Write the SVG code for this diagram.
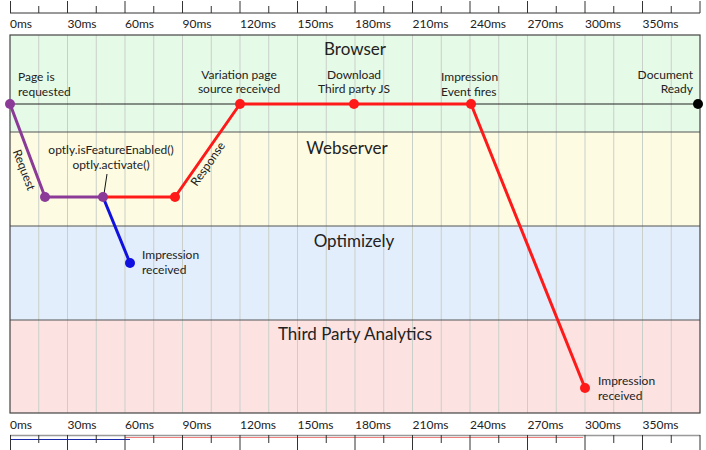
<svg xmlns="http://www.w3.org/2000/svg" width="706" height="450" viewBox="0 0 706 450">
<style>
text{font-family:Lato,"Open Sans","Liberation Sans",sans-serif;fill:#222}
.t{font-size:12px}
.h{font-size:17px;text-anchor:middle}
.ax{font-size:12px}
.grid{stroke:#c9cfc9;stroke-width:1}
.tick{stroke:#333;stroke-width:1}
.div{stroke:#555;stroke-width:1.2}
.pl{fill:none;stroke:#8b3a98;stroke-width:3;stroke-linejoin:round}
.rl{fill:none;stroke:#ff1a1a;stroke-width:3;stroke-linejoin:round}
.bl{fill:none;stroke:#1010e0;stroke-width:3}
.pd{fill:#8b3a98}.rd{fill:#ff1a1a}.bd{fill:#1010e0}
</style>
<rect width="706" height="450" fill="#fff"/>
<g id="top-axis">
<line x1="10" y1="13" x2="700" y2="13" class="tick"/>
<path class="tick" d="M10.5 1V13M67.5 1V13M125 1V13M182.5 1V13M240 1V13M297.5 1V13M355 1V13M412.5 1V13M470 1V13M527.5 1V13M585 1V13M642.5 1V13M700 1V13"/>
<path class="tick" stroke="#777" d="M38.75 6V13M96.25 6V13M153.75 6V13M211.25 6V13M268.75 6V13M326.25 6V13M383.75 6V13M441.25 6V13M498.75 6V13M556.25 6V13M613.75 6V13M671.25 6V13"/>
<g class="ax">
<text x="10" y="28">0ms</text><text x="67.5" y="28">30ms</text><text x="125" y="28">60ms</text><text x="182.5" y="28">90ms</text><text x="240" y="28">120ms</text><text x="297.5" y="28">150ms</text><text x="355" y="28">180ms</text><text x="412.5" y="28">210ms</text><text x="470" y="28">240ms</text><text x="527.5" y="28">270ms</text><text x="585" y="28">300ms</text><text x="642.5" y="28">350ms</text>
</g>
</g>
<g id="lanes">
<rect x="10" y="35" width="690" height="97" fill="#e6fae8"/>
<rect x="10" y="132" width="690" height="94" fill="#fdfbe2"/>
<rect x="10" y="226" width="690" height="94" fill="#e3eefc"/>
<rect x="10" y="320" width="690" height="93" fill="#fde2e2"/>
<path class="grid" d="M38.75 35V413M67.5 35V413M96.25 35V413M125 35V413M153.75 35V413M182.5 35V413M211.25 35V413M240 35V413M268.75 35V413M297.5 35V413M326.25 35V413M355 35V413M383.75 35V413M412.5 35V413M441.25 35V413M470 35V413M498.75 35V413M527.5 35V413M556.25 35V413M585 35V413M613.75 35V413M642.5 35V413M671.25 35V413"/>
<path class="div" d="M10 132H700M10 226H700M10 320H700"/>
<rect x="10" y="35" width="690" height="378" fill="none" stroke="#444" stroke-width="1.2"/>
<text class="h" x="355" y="55">Browser</text>
<text class="h" x="347" y="154">Webserver</text>
<text class="h" x="354" y="247">Optimizely</text>
<text class="h" x="355" y="340">Third Party Analytics</text>
</g>
<g id="bottom-axis">
<g class="ax">
<text x="10" y="429">0ms</text><text x="67.5" y="429">30ms</text><text x="125" y="429">60ms</text><text x="182.5" y="429">90ms</text><text x="240" y="429">120ms</text><text x="297.5" y="429">150ms</text><text x="355" y="429">180ms</text><text x="412.5" y="429">210ms</text><text x="470" y="429">240ms</text><text x="527.5" y="429">270ms</text><text x="585" y="429">300ms</text><text x="642.5" y="429">350ms</text>
</g>
<line x1="10" y1="435.5" x2="700" y2="435.5" stroke="#999" stroke-width="1.5"/>
<line x1="125" y1="437.5" x2="583" y2="437.5" stroke="#f08080" stroke-width="1"/>
<line x1="10" y1="439.5" x2="130" y2="439.5" stroke="#1a2aa8" stroke-width="1.2"/>
<path class="tick" d="M10.5 435V450M67.5 435V450M125 435V450M182.5 435V450M240 435V450M297.5 435V450M355 435V450M412.5 435V450M470 435V450M527.5 435V450M585 435V450M642.5 435V450M700 435V450"/>
<path class="tick" stroke="#777" d="M38.75 435V443M96.25 435V443M153.75 435V443M211.25 435V443M268.75 435V443M326.25 435V443M383.75 435V443M441.25 435V443M498.75 435V443M556.25 435V443M613.75 435V443M671.25 435V443"/>
</g>
<g id="connectors">
<line x1="10" y1="104" x2="698" y2="104" stroke="#222" stroke-width="1.2"/>
<line x1="107" y1="174" x2="104" y2="194" stroke="#111" stroke-width="1"/>
<path class="bl" d="M103 197L130 263"/>
<path class="rl" d="M103 197H175L240 104H471L585 388"/>
<path class="pl" d="M10 104L45 197H103"/>
</g>
<g id="node-page-requested"><circle cx="10" cy="104" r="5" class="pd"/><text class="t" x="18" y="81">Page is</text><text class="t" x="18" y="96">requested</text></g>
<g id="node-request-arrive"><circle cx="45" cy="197" r="5" class="pd"/><text class="t" transform="translate(24 170) rotate(69)" text-anchor="middle" dy="4">Request</text></g>
<g id="node-optly"><circle cx="103" cy="197" r="5" class="pd"/><text class="t" x="111" y="154" text-anchor="middle">optly.isFeatureEnabled()</text><text class="t" x="111" y="169" text-anchor="middle">optly.activate()</text></g>
<g id="node-response"><circle cx="175" cy="197" r="5" class="rd"/><text class="t" transform="translate(208 164) rotate(-55)" text-anchor="middle" dy="4">Response</text></g>
<g id="node-variation"><circle cx="240" cy="104" r="5" class="rd"/><text class="t" x="239" y="79" text-anchor="middle">Variation page</text><text class="t" x="239" y="93" text-anchor="middle">source received</text></g>
<g id="node-download"><circle cx="354" cy="104" r="5" class="rd"/><text class="t" x="354" y="79" text-anchor="middle">Download</text><text class="t" x="354" y="93" text-anchor="middle">Third party JS</text></g>
<g id="node-impression-fires"><circle cx="471" cy="104" r="5" class="rd"/><text class="t" x="441" y="81">Impression</text><text class="t" x="441" y="96">Event fires</text></g>
<g id="node-document-ready"><circle cx="698" cy="104" r="5" fill="#000"/><text class="t" x="693" y="79" text-anchor="end">Document</text><text class="t" x="693" y="93" text-anchor="end">Ready</text></g>
<g id="node-opt-impression"><circle cx="130" cy="263" r="5" class="bd"/><text class="t" x="142" y="259">Impression</text><text class="t" x="142" y="274">received</text></g>
<g id="node-tpa-impression"><circle cx="585" cy="388" r="5" class="rd"/><text class="t" x="598" y="385">Impression</text><text class="t" x="598" y="400">received</text></g>
</svg>
